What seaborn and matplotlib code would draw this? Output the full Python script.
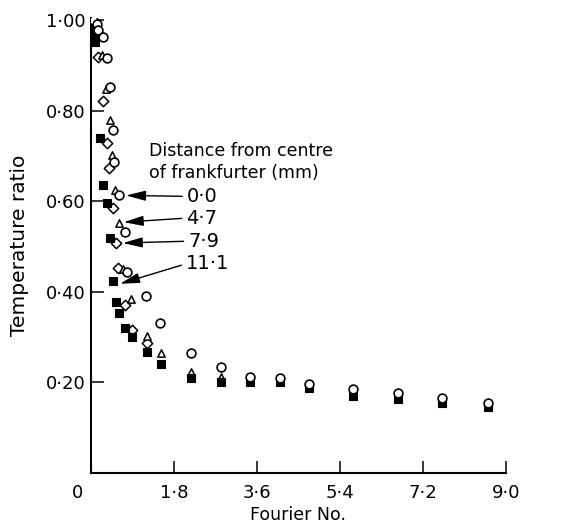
import matplotlib
matplotlib.use("Agg")
import matplotlib.pyplot as plt
import seaborn as sns
import pandas as pd

# Fourier number / temperature ratio readings at four radial positions
r00_x = [0.04, 0.13, 0.15, 0.26, 0.35, 0.41, 0.48, 0.50, 0.61, 0.74, 0.78, 1.19, 1.49,
         2.16, 2.81, 3.44, 4.09, 4.74, 5.69, 6.67, 7.62, 8.61]
r00_y = [1.000, 0.991, 0.978, 0.963, 0.917, 0.853, 0.758, 0.686, 0.613, 0.532, 0.444, 0.391, 0.332,
         0.264, 0.234, 0.213, 0.209, 0.197, 0.185, 0.176, 0.165, 0.155]

r47_x = [0.11, 0.24, 0.32, 0.41, 0.45, 0.52, 0.61, 0.69, 0.87, 1.21, 1.52, 2.16, 2.81]
r47_y = [0.985, 0.923, 0.848, 0.780, 0.703, 0.624, 0.552, 0.450, 0.385, 0.303, 0.264, 0.222, 0.212]

r79_x = [0.13, 0.15, 0.26, 0.35, 0.39, 0.48, 0.54, 0.58, 0.74, 0.89, 1.21]
r79_y = [0.974, 0.919, 0.822, 0.728, 0.673, 0.585, 0.508, 0.453, 0.371, 0.316, 0.288]

r111_x = [0.04, 0.07, 0.09, 0.19, 0.26, 0.35, 0.41, 0.48, 0.54, 0.61, 0.74, 0.89, 1.21, 1.52,
          2.16, 2.81, 3.44, 4.09, 4.74, 5.69, 6.67, 7.62, 8.61]
r111_y = [0.987, 0.967, 0.952, 0.740, 0.637, 0.596, 0.519, 0.424, 0.378, 0.354, 0.321, 0.301, 0.268, 0.240,
          0.209, 0.200, 0.202, 0.200, 0.187, 0.171, 0.163, 0.154, 0.145]

distances = ["0·0", "4·7", "7·9", "11·1"]
x_ticks = [1.8, 3.6, 5.4, 7.2, 9.0]
x_tick_labels = ["1·8", "3·6", "5·4", "7·2", "9·0"]
y_ticks = [0.2, 0.4, 0.6, 0.8, 1.0]
y_tick_labels = ["0·20", "0·40", "0·60", "0·80", "1·00"]

# arrow tips pointing at one reading of each series, and where each label sits
arrow_tip = {"0·0": (0.76, 0.613), "4·7": (0.71, 0.554), "7·9": (0.69, 0.508), "11·1": (0.63, 0.418)}
label_pos = {"0·0": (2.08, 0.611), "4·7": (2.07, 0.563), "7·9": (2.11, 0.512), "11·1": (2.06, 0.462)}

frames = []
for name, xs, ys in [("0·0", r00_x, r00_y), ("4·7", r47_x, r47_y),
                     ("7·9", r79_x, r79_y), ("11·1", r111_x, r111_y)]:
    frames.append(pd.DataFrame({"fourier": xs, "ratio": ys, "distance": name}))
df = pd.concat(frames, ignore_index=True)

sns.set_theme(style="ticks")
plt.rcParams["font.family"] = ["DejaVu Sans"]
plt.rcParams["text.color"] = "black"
plt.rcParams["axes.labelcolor"] = "black"

fig = plt.figure(figsize=(5.62, 5.26), dpi=100)
ax = fig.add_axes([0.162, 0.1008, 0.738, 0.865])

styles = {
    "7·9": dict(marker="D", s=28, facecolor="white", edgecolor="black", linewidth=1.1, zorder=3),
    "4·7": dict(marker="^", s=28, facecolor="white", edgecolor="black", linewidth=1.1, zorder=4),
    "11·1": dict(marker="s", s=32, facecolor="black", edgecolor="black", linewidth=0.8, zorder=5),
    "0·0": dict(marker="o", s=40, facecolor="white", edgecolor="black", linewidth=1.2, zorder=6),
}
for name in ["7·9", "4·7", "11·1", "0·0"]:
    sns.scatterplot(data=df[df["distance"] == name], x="fourier", y="ratio",
                    ax=ax, legend=False, **styles[name])

ax.set_xlim(0, 9.0)
ax.set_ylim(0, 1.005)
sns.despine(ax=ax)
for side in ["left", "bottom"]:
    ax.spines[side].set_linewidth(1.5)
    ax.spines[side].set_color("black")

ax.set_xticks(x_ticks)
ax.set_xticklabels(x_tick_labels)
ax.set_yticks(y_ticks)
ax.set_yticklabels(y_tick_labels)
ax.tick_params(axis="both", direction="in", length=9, width=1.1, color="black",
               labelsize=13, labelcolor="black")
ax.tick_params(axis="x", pad=8)
ax.tick_params(axis="y", pad=4)
ax.annotate("0", xy=(0, 0), xycoords="data", xytext=(-10, -8), textcoords="offset points",
            ha="center", va="top", fontsize=13)

ax.set_xlabel("Fourier No.", fontsize=12.5, labelpad=3)
ax.set_ylabel("Temperature ratio", fontsize=14.5)
ax.yaxis.set_label_coords(-0.15, 0.5)

ax.text(1.25, 0.73, "Distance from centre\nof frankfurter (mm)", fontsize=12.5,
        ha="left", va="top", linespacing=1.25)
for name in distances:
    ax.annotate(name, xy=arrow_tip[name], xytext=label_pos[name],
                ha="left", va="center", fontsize=14,
                arrowprops=dict(arrowstyle="-|>,head_length=0.85,head_width=0.22",
                                color="black", lw=1.0, shrinkA=1, shrinkB=0,
                                relpos=(0, 0.5)))

fig.savefig("out.png", dpi=100, facecolor="white")
